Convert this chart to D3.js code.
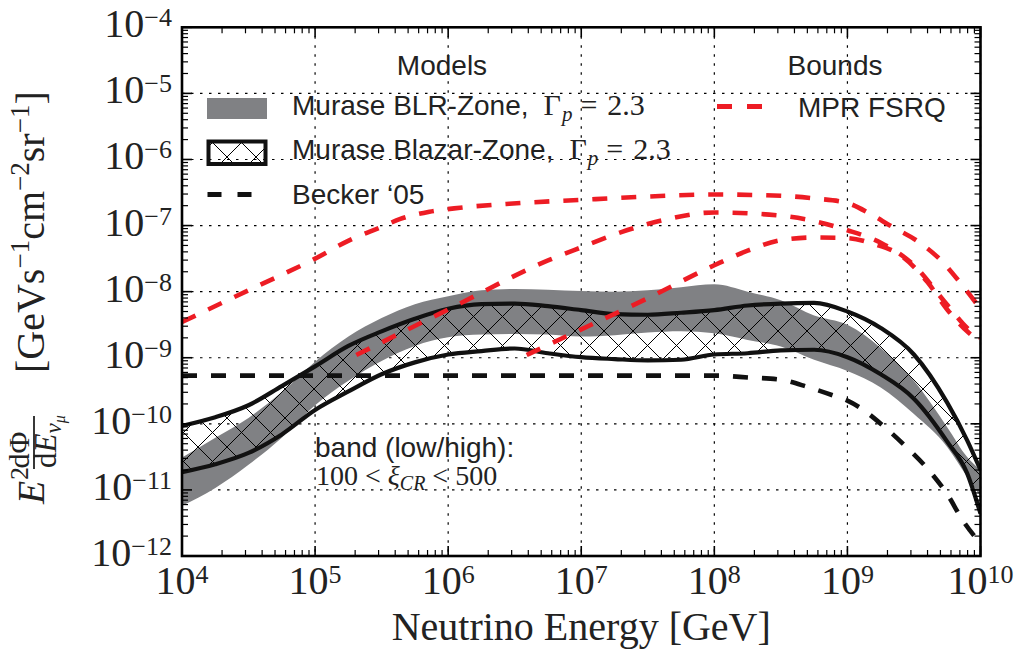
<!DOCTYPE html>
<html><head><meta charset="utf-8">
<script src="https://cdn.jsdelivr.net/npm/d3@7"></script>
<style>body{margin:0;background:#fff} svg{display:block}</style>
</head><body><svg id="c" width="1019" height="657"></svg>
<script>
// ---------------- data ----------------
const energyGrid = [1e4,1.78e4,3.16e4,5.62e4,1e5,1.78e5,3.16e5,5.62e5,1e6,1.78e6,3.16e6,5.62e6,1e7,1.78e7,3.16e7,5.62e7,1e8,1.78e8,3.16e8,5.62e8,1e9,1.78e9,3.16e9,5.62e9,7.94e9,1e10];
const blrHigh = [3.09e-11,6.17e-11,1.23e-10,3.02e-10,8.71e-10,2.09e-9,3.98e-9,6.46e-9,8.51e-9,1.05e-8,1.10e-8,1.07e-8,1.02e-8,1.0e-8,1.05e-8,1.17e-8,1.29e-8,1.0e-8,7.41e-9,4.37e-9,3.16e-9,1.41e-9,4.47e-10,8.91e-11,3.16e-11,2.0e-11];
const blrLow  = [5.75e-12,1.07e-11,2.40e-11,6.17e-11,1.91e-10,4.47e-10,8.91e-10,1.51e-9,2.04e-9,2.24e-9,2.29e-9,2.24e-9,2.09e-9,2.19e-9,2.40e-9,2.51e-9,2.34e-9,1.86e-9,1.48e-9,9.33e-10,6.31e-10,3.55e-10,1.41e-10,4.47e-11,1.58e-11,7.94e-12];
const blazarHigh = [9.33e-11,1.26e-10,1.91e-10,3.72e-10,7.41e-10,1.51e-9,2.51e-9,3.89e-9,5.50e-9,6.46e-9,6.61e-9,6.03e-9,5.25e-9,4.57e-9,4.47e-9,4.79e-9,5.25e-9,6.17e-9,6.61e-9,6.76e-9,5.01e-9,2.82e-9,1.12e-9,2.09e-10,5.62e-11,2.0e-11];
const blazarLow  = [1.86e-11,2.45e-11,3.63e-11,6.92e-11,1.62e-10,3.09e-10,5.62e-10,8.51e-10,1.12e-9,1.26e-9,1.38e-9,1.17e-9,1.02e-9,9.55e-10,9.12e-10,9.33e-10,1.12e-9,1.17e-9,1.29e-9,1.32e-9,1.02e-9,5.62e-10,2.40e-10,5.37e-11,1.78e-11,4.37e-12];

const beckerE = [1e4,1e5,1e6,1e7,1e8,1.86e8,3.1e8,5.0e8,7.8e8,1e9,1.23e9,1.86e9,2.8e9,4e9,5.6e9,7.4e9,1e10];
const beckerF = [5.37e-10,5.37e-10,5.37e-10,5.37e-10,5.37e-10,5.01e-10,4.68e-10,3.63e-10,2.69e-10,2.24e-10,1.78e-10,9.3e-11,4.37e-11,2.09e-11,8.7e-12,3.4e-12,1.55e-12];

const mprAE = [1e4,3.16e4,1e5,1.82e5,3.16e5,4.37e5,7.24e5,1.23e6,2.88e6,1e7,3.16e7,1e8,3.16e8,5.62e8,1e9,1.48e9,2.09e9,3.39e9,5.13e9,7.08e9,1e10];
const mprAF = [3.47e-9,1.05e-8,3.16e-8,6.03e-8,9.55e-8,1.26e-7,1.62e-7,1.86e-7,2.14e-7,2.45e-7,2.75e-7,2.95e-7,2.82e-7,2.57e-7,2.19e-7,1.51e-7,1.0e-7,5.75e-8,2.88e-8,1.35e-8,5.50e-9];
const mprBE = [2.04e5,1e6,5.75e6,1e7,2e7,4.07e7,1e8,3.16e8,1e9,1.78e9,3.16e9,5.62e9,7.94e9,1e10];
const mprBF = [1.10e-9,5.37e-9,3.02e-8,4.68e-8,7.94e-8,1.20e-7,1.58e-7,1.41e-7,8.51e-8,5.50e-8,2.51e-8,6.31e-9,2.82e-9,2.0e-9];
const mprCE = [3.89e6,1e7,3.16e7,1e8,1.78e8,3.16e8,5.62e8,1e9,1.58e9,2.51e9,3.98e9,5.62e9,7.94e9,1e10];
const mprCF = [1.10e-9,2.69e-9,7.94e-9,2.51e-8,4.17e-8,6.03e-8,6.61e-8,6.46e-8,5.25e-8,3.55e-8,1.41e-8,5.37e-9,2.51e-9,1.74e-9];

const xTickExps = [4,5,6,7,8,9,10];
const yTickExps = [-12,-11,-10,-9,-8,-7,-6,-5,-4];
const legendModels = ["Murase BLR-Zone,", "Murase Blazar-Zone,", "Becker \u201805"];
const legendBounds = ["MPR FSRQ"];

// ---------------- drawing ----------------
const svg = d3.select("#c");
const L = 182, R = 980.5, T = 27.3, B = 556;
const x = d3.scaleLog().domain([1e4, 1e10]).range([L, R]);
const y = d3.scaleLog().domain([1e-12, 1e-4]).range([B, T]);
const RED = "#ed1c24", GRAY = "#808184";
const SERIF = "'Liberation Serif', 'DejaVu Serif', serif";
const SANS = "'Liberation Sans', Arial, Helvetica, sans-serif";

const defs = svg.append("defs");
defs.append("clipPath").attr("id", "clip").append("rect")
  .attr("x", L).attr("y", T).attr("width", R - L).attr("height", B - T);
const hs = 29;
const pat = defs.append("pattern").attr("id", "hatch").attr("patternUnits", "userSpaceOnUse")
  .attr("x", 24).attr("y", 12).attr("width", hs).attr("height", hs);
pat.append("path").attr("d", `M-2,-2L${hs+2},${hs+2}M${hs+2},-2L-2,${hs+2}M${-hs/2},${hs/2}L0,${hs}M${hs/2},${-hs/2}L0,0`)
  .attr("stroke", "#000").attr("stroke-width", 1).attr("fill", "none");

// grid
const grid = svg.append("g").attr("stroke", "#000").attr("stroke-width", 1.2).attr("stroke-dasharray", "2.5,6.5");
xTickExps.forEach(e => grid.append("line").attr("x1", x(10 ** e)).attr("x2", x(10 ** e)).attr("y1", T).attr("y2", B));
yTickExps.forEach(e => grid.append("line").attr("y1", y(10 ** e)).attr("y2", y(10 ** e)).attr("x1", L).attr("x2", R));

const plot = svg.append("g").attr("clip-path", "url(#clip)");
const band = (hi, lo) => d3.area().x((d, i) => x(energyGrid[i])).y0((d, i) => y(lo[i])).y1((d, i) => y(hi[i])).curve(d3.curveMonotoneX)(energyGrid);
const line = (E, F) => d3.line().x((d, i) => x(E[i])).y((d, i) => y(F[i])).curve(d3.curveMonotoneX)(E);

plot.append("path").attr("d", band(blrHigh, blrLow)).attr("fill", GRAY);
plot.append("path").attr("d", band(blazarHigh, blazarLow)).attr("fill", "url(#hatch)");
[blazarHigh, blazarLow].forEach(F => plot.append("path").attr("d", line(energyGrid, F))
  .attr("fill", "none").attr("stroke", "#111").attr("stroke-width", 4.2).attr("stroke-linejoin", "round"));
plot.append("path").attr("d", line(beckerE, beckerF)).attr("fill", "none").attr("stroke", "#111")
  .attr("stroke-width", 4.6).attr("stroke-dasharray", "15,14");
[[mprAE, mprAF], [mprBE, mprBF], [mprCE, mprCF]].forEach(([E, F]) => plot.append("path").attr("d", line(E, F))
  .attr("fill", "none").attr("stroke", RED).attr("stroke-width", 4.6).attr("stroke-dasharray", "15,14"));

// ticks (inward, all four sides)
const ticks = svg.append("g").attr("stroke", "#000");
const isMajor = v => Math.abs(Math.log10(v) - Math.round(Math.log10(v))) < 1e-6;
x.ticks().forEach(v => {
  const len = isMajor(v) ? 10 : 6, w = isMajor(v) ? 1.6 : 1.2, px = x(v);
  ticks.append("line").attr("x1", px).attr("x2", px).attr("y1", B).attr("y2", B - len).attr("stroke-width", w);
  ticks.append("line").attr("x1", px).attr("x2", px).attr("y1", T).attr("y2", T + len).attr("stroke-width", w);
});
y.ticks().forEach(v => {
  const len = isMajor(v) ? 10 : 6, w = isMajor(v) ? 1.6 : 1.2, py = y(v);
  ticks.append("line").attr("y1", py).attr("y2", py).attr("x1", L).attr("x2", L + len).attr("stroke-width", w);
  ticks.append("line").attr("y1", py).attr("y2", py).attr("x1", R).attr("x2", R - len).attr("stroke-width", w);
});
svg.append("rect").attr("x", L).attr("y", T).attr("width", R - L).attr("height", B - T)
  .attr("fill", "none").attr("stroke", "#000").attr("stroke-width", 2.6);

// tick labels
function pow10(t, e) {
  t.append("tspan").text("10");
  t.append("tspan").attr("dy", -11).attr("font-size", 26).text(e < 0 ? "\u2212" + (-e) : String(e));
}
xTickExps.forEach(e => {
  const t = svg.append("text").attr("x", x(10 ** e)).attr("y", 593.5).attr("text-anchor", "middle")
    .attr("font-family", SERIF).attr("font-size", 40).attr("fill", "#222");
  pow10(t, e);
});
yTickExps.forEach(e => {
  const t = svg.append("text").attr("x", 172).attr("y", y(10 ** e) + 10).attr("text-anchor", "end")
    .attr("font-family", SERIF).attr("font-size", 40).attr("fill", "#222");
  pow10(t, e);
});

// x label
svg.append("text").attr("x", (L + R) / 2).attr("y", 640).attr("text-anchor", "middle")
  .attr("font-family", SERIF).attr("font-size", 40).attr("fill", "#222").text("Neutrino Energy [GeV]");

// y label (rotated): local (u,v) -> screen (x=v, y=-u)
const yl = svg.append("g").attr("transform", "rotate(-90)").attr("fill", "#222").attr("font-family", SERIF);
yl.append("text").attr("x", -504).attr("y", 44).attr("font-size", 38).attr("font-style", "italic").text("E");
yl.append("text").attr("x", -480).attr("y", 28).attr("font-size", 26).text("2");
yl.append("line").attr("x1", -469).attr("x2", -416).attr("y1", 34).attr("y2", 34).attr("stroke", "#222").attr("stroke-width", 1.8);
yl.append("text").attr("x", -450).attr("y", 29).attr("text-anchor", "middle").attr("font-size", 30).text("d\u03A6");
const den = yl.append("text").attr("x", -468).attr("y", 56).attr("font-size", 31);
den.append("tspan").text("d");
den.append("tspan").attr("font-style", "italic").text("E");
den.append("tspan").attr("font-style", "italic").attr("font-size", 23).attr("dy", 5).text("\u03BD");
den.append("tspan").attr("font-style", "italic").attr("font-size", 16).attr("dy", 4).text("\u03BC");
const unit = yl.append("text").attr("x", -373).attr("y", 44).attr("font-size", 40);
[["[GeVs", 0], ["\u22121", 1], ["cm", 0], ["\u22122", 1], ["sr", 0], ["\u22121", 1], ["]", 0]].forEach(([s, sup], i, arr) => {
  const prevSup = i > 0 && arr[i - 1][1];
  const ts = unit.append("tspan").text(s);
  if (sup) ts.attr("dy", -15).attr("font-size", 27);
  else if (prevSup) ts.attr("dy", 15);
});

// legend (Models)
const leg = svg.append("g").attr("font-family", SANS).attr("font-size", 28).attr("fill", "#222");
leg.append("text").attr("x", 442).attr("y", 75).attr("text-anchor", "middle").text("Models");
leg.append("text").attr("x", 835).attr("y", 75).attr("text-anchor", "middle").text("Bounds");
svg.append("rect").attr("x", 207).attr("y", 98).attr("width", 60).attr("height", 21).attr("fill", GRAY);
svg.append("rect").attr("x", 208.5).attr("y", 141.5).attr("width", 57).attr("height", 22.5)
  .attr("fill", "url(#hatch)").attr("stroke", "#111").attr("stroke-width", 4);
svg.append("line").attr("x1", 207.5).attr("x2", 267).attr("y1", 194.5).attr("y2", 194.5)
  .attr("stroke", "#111").attr("stroke-width", 5).attr("stroke-dasharray", "14,16");
svg.append("line").attr("x1", 717).attr("x2", 777).attr("y1", 106.5).attr("y2", 106.5)
  .attr("stroke", RED).attr("stroke-width", 5).attr("stroke-dasharray", "15,15");

function mathSuffix(g, x0, yb) {
  const t = g.append("text").attr("x", x0).attr("y", yb).attr("font-family", SERIF).attr("font-size", 30);
  t.append("tspan").text("\u0393");
  t.append("tspan").attr("font-style", "italic").attr("font-size", 21).attr("dy", 6).attr("dx", 1).text("p");
  t.append("tspan").attr("dy", -6).attr("dx", 8).text("=");
  t.append("tspan").attr("dx", 10).text("2.3");
}
const r1 = leg.append("text").attr("x", 292).attr("y", 114.5).text(legendModels[0]);
mathSuffix(leg, 292 + r1.node().getComputedTextLength() + 15, 114.5);
const r2 = leg.append("text").attr("x", 292).attr("y", 158.5).text(legendModels[1]);
mathSuffix(leg, 292 + r2.node().getComputedTextLength() + 16, 158.5);
leg.append("text").attr("x", 292).attr("y", 203.5).text(legendModels[2]);
leg.append("text").attr("x", 798).attr("y", 117).text(legendBounds[0]);

// band annotation
leg.append("text").attr("x", 315).attr("y", 457).text("band (low/high):");
const ann = svg.append("text").attr("x", 316).attr("y", 485).attr("font-family", SERIF).attr("font-size", 28).attr("fill", "#222");
ann.append("tspan").text("100 < ");
ann.append("tspan").attr("font-style", "italic").text("\u03BE");
ann.append("tspan").attr("font-style", "italic").attr("font-size", 20).attr("dy", 5).text("CR");
ann.append("tspan").attr("dy", -5).text(" < 500");
</script></body></html>
